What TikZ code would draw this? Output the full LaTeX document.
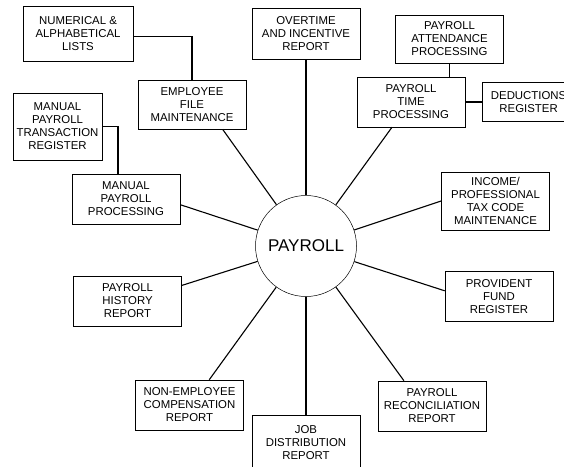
\documentclass[tikz,border=0pt]{standalone}
\usepackage{fontspec}
\setmainfont{Liberation Sans}
\usetikzlibrary{positioning}

\begin{document}
\begin{tikzpicture}[x=1pt,y=-1pt]

\tikzstyle{block}=[
  rectangle,
  draw,
  line width=0.6pt,
  minimum width=108pt,
  minimum height=50pt,
  inner sep=2pt,
  align=center,
  font=\fontsize{11.4}{13}\selectfont
]
\tikzstyle{link}=[line width=1.1pt]

\useasboundingbox (0,0) rectangle (564,466);
\clip (0,0) rectangle (564,466);

% hub
\node[circle, draw, line width=0.5pt, minimum size=101pt, inner sep=0pt,
  font=\fontsize{17}{20}\selectfont] (payroll) at (306,246) {PAYROLL};

\node[block, minimum height=51pt] (overtime) at (306,33.5)
{OVERTIME\\AND INCENTIVE\\REPORT};

\node[block, minimum width=110pt, minimum height=55pt] (numlists) at (78,33.5)
{NUMERICAL \&\\ALPHABETICAL\\LISTS};

\node[block, minimum height=49pt] (empfile) at (192,104.5)
{EMPLOYEE\\FILE\\MAINTENANCE};

\node[block, minimum width=89pt, minimum height=67pt] (mptreg) at (57.5,126.5)
{MANUAL\\PAYROLL\\TRANSACTION\\REGISTER};

\node[block] (manproc) at (126,199)
{MANUAL\\PAYROLL\\PROCESSING};

\node[block, minimum height=48pt] (attend) at (449.5,39)
{PAYROLL\\ATTENDANCE\\PROCESSING};

\node[block] (timeproc) at (411,102)
{PAYROLL\\TIME\\PROCESSING};

\node[block, minimum width=92pt, minimum height=39pt, right=17pt of timeproc] (deduct)
{DEDUCTIONS\\REGISTER};

\node[block, minimum height=58pt] (income) at (495.5,201)
{INCOME/\\PROFESSIONAL\\TAX CODE\\MAINTENANCE};

\node[block] (provident) at (499,296.5)
{PROVIDENT\\FUND\\REGISTER};

\node[block] (recon) at (432,406)
{PAYROLL\\RECONCILIATION\\REPORT};

\node[block, minimum height=55pt] (jobdist) at (306,442.5)
{JOB\\DISTRIBUTION\\REPORT};

\node[block] (nonemp) at (189.5,405)
{NON-EMPLOYEE\\COMPENSATION\\REPORT};

\node[block] (history) at (127.5,301)
{PAYROLL\\HISTORY\\REPORT};

% spokes
\draw[link] (payroll) -- (overtime.south);
\draw[link] (payroll) -- (empfile.-39);
\draw[link] (payroll) -- (manproc.-6);
\draw[link] (payroll) -- (history.16);
\draw[link] (payroll) -- (nonemp.52);
\draw[link] (payroll) -- (jobdist.north);
\draw[link] (payroll) -- (recon.138);
\draw[link] (payroll) -- (provident.174);
\draw[link] (payroll) -- (income.west);
\draw[link] (payroll) -- (timeproc.-127);

% side links
\draw[link] (numlists.-3) -| (empfile.north);
\draw[link] (mptreg.east) -| ([xshift=-8pt]manproc.north);
\draw[link] (attend.south) -- (attend.south |- timeproc.north);
\draw[link] (timeproc.east) -- (deduct.west);

\end{tikzpicture}
\end{document}
